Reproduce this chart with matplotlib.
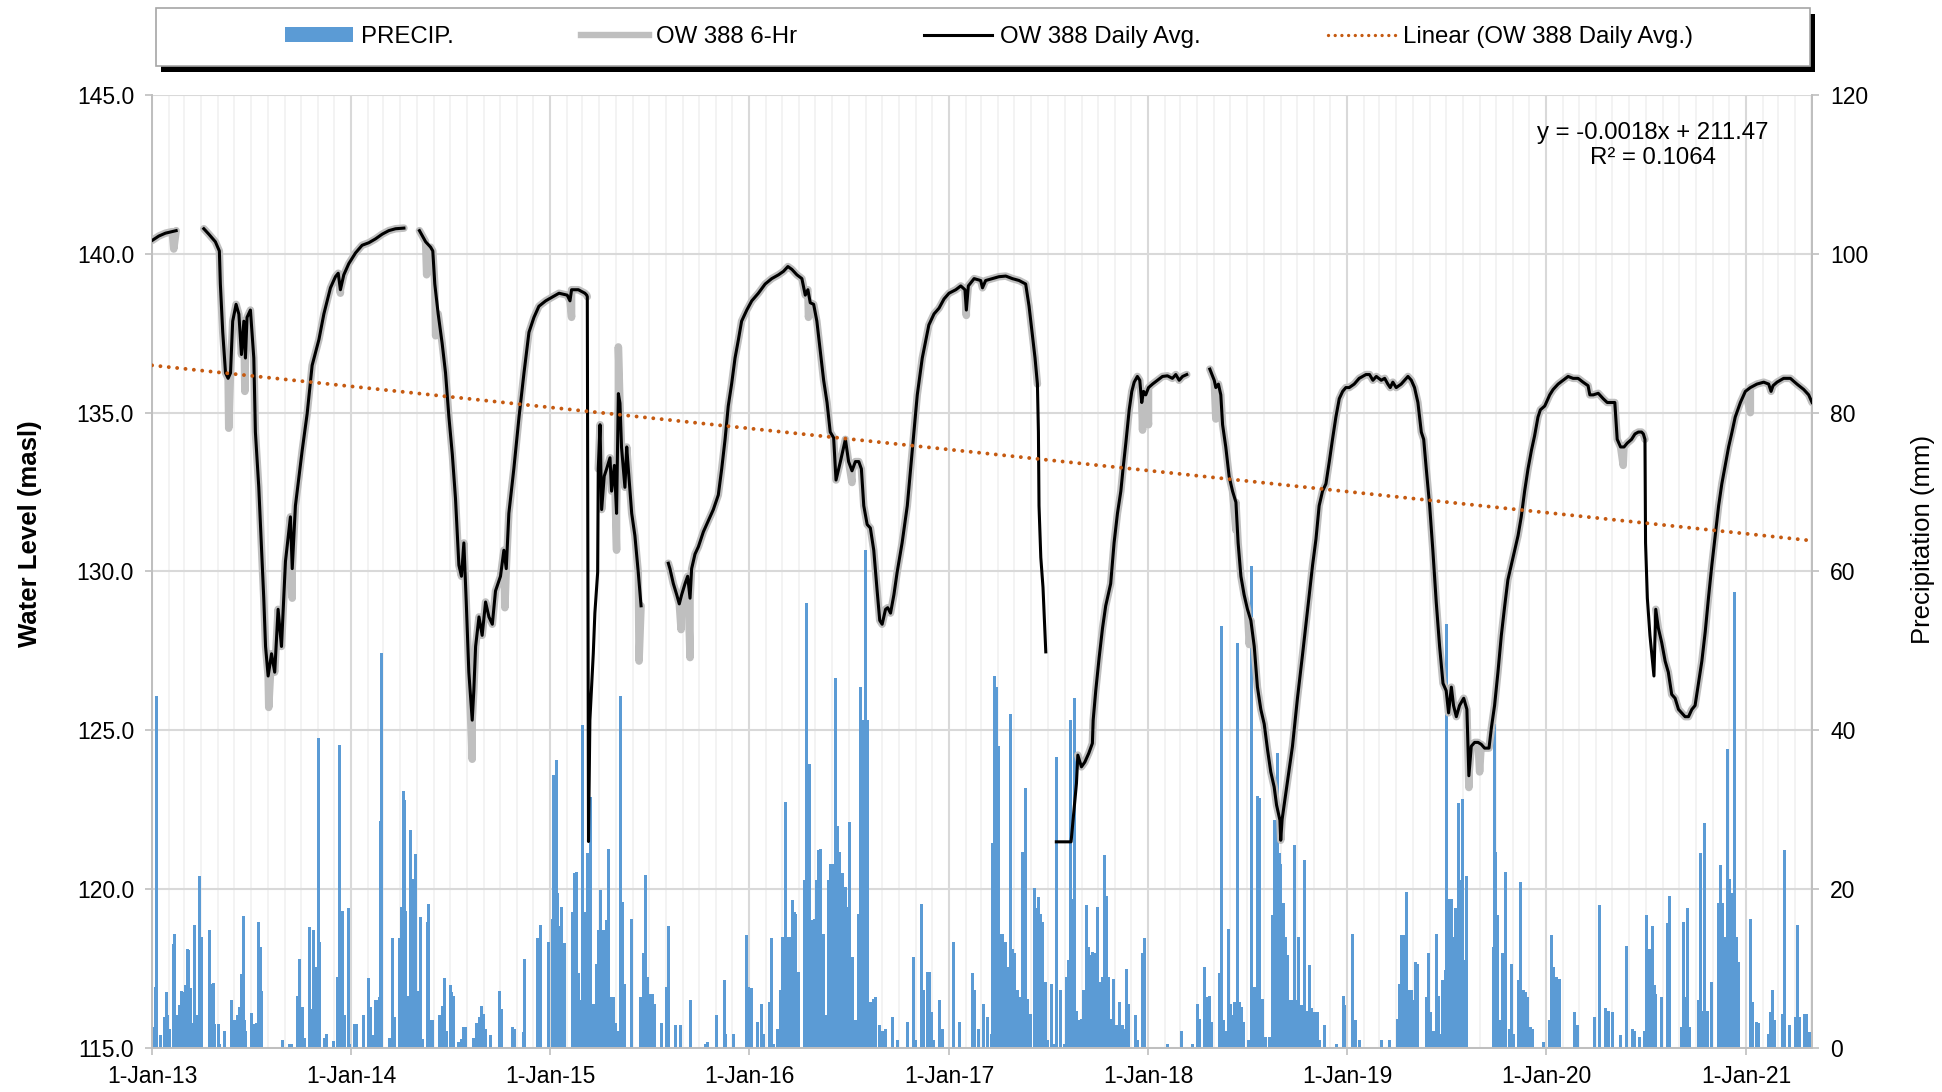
import numpy as np
import pandas as pd
import matplotlib
matplotlib.use("Agg")
import matplotlib.pyplot as plt
import matplotlib.dates as mdates
from matplotlib.patches import Patch, Rectangle
from matplotlib.lines import Line2D
from matplotlib.ticker import FixedLocator, FuncFormatter

plt.rcParams['font.family'] = ['Liberation Sans', 'DejaVu Sans']

nan = np.nan

# OW 388 daily average water level (decimal year, masl); nan = no data
level_year = [
    2013.000, 2013.034, 2013.067, 2013.101, 2013.121, 2013.190,
    2013.260, 2013.285, 2013.318, 2013.338, 2013.343, 2013.355, 2013.369, 2013.382, 2013.394, 2013.405,
    2013.422, 2013.436, 2013.449, 2013.461, 2013.469, 2013.477, 2013.494, 2013.511, 2013.519, 2013.536,
    2013.553, 2013.561, 2013.570, 2013.583, 2013.600, 2013.616, 2013.633, 2013.650, 2013.670, 2013.695,
    2013.704, 2013.720, 2013.754, 2013.779, 2013.804, 2013.838, 2013.863, 2013.896, 2013.921, 2013.935,
    2013.946, 2013.963, 2013.988, 2014.022, 2014.055, 2014.089, 2014.122, 2014.156, 2014.189, 2014.223,
    2014.265, 2014.300,
    2014.343, 2014.374, 2014.399, 2014.410, 2014.420, 2014.437, 2014.457, 2014.474, 2014.491, 2014.508,
    2014.524, 2014.541, 2014.554, 2014.566, 2014.578, 2014.591, 2014.608, 2014.616, 2014.625, 2014.642,
    2014.658, 2014.675, 2014.692, 2014.709, 2014.725, 2014.750, 2014.767, 2014.779, 2014.792, 2014.817,
    2014.843, 2014.868, 2014.893, 2014.918, 2014.943, 2014.977, 2015.010, 2015.044, 2015.085, 2015.099,
    2015.107, 2015.141, 2015.174, 2015.183, 2015.186, 2015.192, 2015.199, 2015.216, 2015.224, 2015.238,
    2015.241, 2015.250, 2015.258, 2015.271, 2015.283, 2015.300, 2015.308, 2015.322, 2015.333, 2015.342,
    2015.350, 2015.358, 2015.375, 2015.384, 2015.392, 2015.409, 2015.425, 2015.442, 2015.456, 2015.520,
    2015.593, 2015.601, 2015.618, 2015.635, 2015.648, 2015.660, 2015.677, 2015.690, 2015.702, 2015.710,
    2015.727, 2015.744, 2015.769, 2015.794, 2015.819, 2015.844, 2015.861, 2015.878, 2015.894, 2015.911,
    2015.928, 2015.945, 2015.961, 2015.987, 2016.012, 2016.045, 2016.079, 2016.112, 2016.146, 2016.171,
    2016.193, 2016.213, 2016.238, 2016.263, 2016.280, 2016.293, 2016.305, 2016.322, 2016.338, 2016.355,
    2016.372, 2016.389, 2016.405, 2016.422, 2016.434, 2016.456, 2016.481, 2016.497, 2016.514, 2016.531,
    2016.548, 2016.561, 2016.573, 2016.590, 2016.606, 2016.623, 2016.640, 2016.653, 2016.665, 2016.682,
    2016.693, 2016.707, 2016.724, 2016.740, 2016.765, 2016.791, 2016.816, 2016.841, 2016.866, 2016.899,
    2016.925, 2016.950, 2016.975, 2017.000, 2017.034, 2017.059, 2017.080, 2017.087, 2017.097, 2017.126,
    2017.159, 2017.168, 2017.184, 2017.218, 2017.251, 2017.285, 2017.318, 2017.352, 2017.385, 2017.402,
    2017.419, 2017.432, 2017.444, 2017.449, 2017.452, 2017.461, 2017.472, 2017.486, 2017.510,
    2017.539, 2017.613, 2017.640, 2017.647, 2017.665, 2017.682, 2017.702, 2017.720, 2017.724, 2017.737,
    2017.754, 2017.771, 2017.787, 2017.812, 2017.829, 2017.846, 2017.863, 2017.874, 2017.888, 2017.905,
    2017.918, 2017.930, 2017.946, 2017.958, 2017.968, 2017.977, 2017.988, 2018.002, 2018.022, 2018.047,
    2018.072, 2018.097, 2018.122, 2018.139, 2018.156, 2018.173, 2018.194, 2018.250,
    2018.310, 2018.332, 2018.340, 2018.353, 2018.365, 2018.374, 2018.390, 2018.407, 2018.424, 2018.441,
    2018.452, 2018.466, 2018.482, 2018.499, 2018.516, 2018.533, 2018.549, 2018.566, 2018.583, 2018.600,
    2018.616, 2018.633, 2018.645, 2018.662, 2018.666, 2018.673, 2018.682, 2018.704, 2018.725, 2018.750,
    2018.776, 2018.801, 2018.826, 2018.843, 2018.859, 2018.876, 2018.893, 2018.910, 2018.926, 2018.943,
    2018.960, 2018.977, 2018.993, 2019.010, 2019.035, 2019.060, 2019.094, 2019.112, 2019.129, 2019.146,
    2019.171, 2019.188, 2019.204, 2019.216, 2019.229, 2019.246, 2019.271, 2019.288, 2019.305, 2019.322,
    2019.338, 2019.355, 2019.372, 2019.384, 2019.397, 2019.414, 2019.430, 2019.447, 2019.464, 2019.481,
    2019.497, 2019.509, 2019.523, 2019.534, 2019.548, 2019.564, 2019.585, 2019.601, 2019.611, 2019.623,
    2019.640, 2019.657, 2019.673, 2019.690, 2019.712, 2019.724, 2019.740, 2019.757, 2019.774, 2019.791,
    2019.807, 2019.824, 2019.841, 2019.858, 2019.874, 2019.891, 2019.908, 2019.925, 2019.941, 2019.958,
    2019.970, 2019.992, 2020.017, 2020.034, 2020.059, 2020.084, 2020.109, 2020.134, 2020.159, 2020.184,
    2020.209, 2020.218, 2020.235, 2020.260, 2020.285, 2020.305, 2020.327, 2020.343, 2020.355, 2020.372,
    2020.389, 2020.405, 2020.427, 2020.444, 2020.461, 2020.477, 2020.486, 2020.494, 2020.497, 2020.506,
    2020.519, 2020.528, 2020.539, 2020.548, 2020.561, 2020.578, 2020.595, 2020.611, 2020.628, 2020.645,
    2020.662, 2020.678, 2020.695, 2020.712, 2020.729, 2020.745, 2020.762, 2020.779, 2020.796, 2020.812,
    2020.829, 2020.846, 2020.863, 2020.879, 2020.896, 2020.913, 2020.930, 2020.946, 2020.972, 2020.997,
    2021.022, 2021.055, 2021.089, 2021.114, 2021.126, 2021.136, 2021.156, 2021.189, 2021.223, 2021.256,
    2021.290, 2021.315, 2021.332,
]
level_masl = [
    140.42, 140.56, 140.65, 140.70, 140.73, nan,
    140.79, 140.62, 140.38, 140.09, 139.05, 137.53, 136.25, 136.08, 136.25, 137.88,
    138.41, 138.10, 136.83, 137.88, 136.72, 138.00, 138.23, 136.72, 134.39, 132.65,
    130.32, 129.16, 127.64, 126.71, 127.41, 126.83, 128.81, 127.64, 130.32, 131.72,
    130.09, 132.07, 133.81, 134.97, 136.49, 137.30, 138.11, 138.93, 139.28, 139.39,
    138.87, 139.34, 139.69, 140.03, 140.27, 140.35, 140.47, 140.62, 140.73, 140.79,
    140.81, nan,
    140.73, 140.38, 140.21, 140.09, 139.05, 138.11, 137.18, 136.25, 134.86, 133.69,
    132.30, 130.20, 129.85, 130.90, 129.04, 126.83, 125.32, 126.25, 127.64, 128.57,
    127.99, 129.04, 128.57, 128.34, 129.39, 129.85, 130.67, 130.09, 131.83, 133.23,
    134.86, 136.25, 137.53, 138.00, 138.35, 138.52, 138.64, 138.76, 138.70, 138.52,
    138.87, 138.87, 138.76, 138.70, 138.65, 121.50, 125.32, 127.41, 128.69, 129.97,
    133.23, 134.62, 131.95, 133.00, 133.23, 133.58, 132.53, 133.34, 131.83, 135.60,
    135.30, 133.90, 132.65, 133.92, 133.23, 131.83, 131.13, 129.97, 128.92, nan,
    130.26, 130.09, 129.62, 129.27, 128.98, 129.27, 129.62, 129.85, 129.16, 130.09,
    130.55, 130.78, 131.25, 131.60, 131.95, 132.41, 133.23, 134.16, 135.21, 135.91,
    136.72, 137.30, 137.88, 138.23, 138.52, 138.76, 139.05, 139.22, 139.34, 139.45,
    139.60, 139.51, 139.34, 139.22, 138.70, 138.87, 138.46, 138.41, 137.88, 136.95,
    136.02, 135.32, 134.39, 134.21, 132.88, 133.46, 134.16, 133.46, 133.17, 133.46,
    133.46, 133.23, 132.07, 131.48, 131.37, 130.67, 129.39, 128.46, 128.34, 128.81,
    128.86, 128.69, 129.27, 129.97, 130.90, 132.07, 133.81, 135.56, 136.72, 137.76,
    138.11, 138.29, 138.58, 138.76, 138.87, 138.99, 138.87, 138.23, 138.99, 139.22,
    139.16, 138.93, 139.16, 139.22, 139.28, 139.30, 139.22, 139.16, 139.05, 138.35,
    137.42, 136.72, 135.90, 134.39, 132.07, 130.44, 129.50, 127.47, nan,
    121.49, 121.49, 123.33, 124.22, 123.85, 124.00, 124.28, 124.59, 125.32, 126.25,
    127.29, 128.22, 128.92, 129.62, 130.90, 131.83, 132.53, 133.23, 134.04, 135.09,
    135.67, 135.96, 136.14, 136.02, 135.32, 135.67, 135.56, 135.79, 135.90, 136.02,
    136.14, 136.16, 136.08, 136.20, 136.02, 136.14, 136.20, nan,
    136.37, 136.02, 135.79, 135.90, 135.56, 134.62, 133.92, 132.99, 132.53, 132.18,
    130.90, 129.85, 129.27, 128.81, 128.46, 127.64, 126.36, 125.66, 125.20, 124.38,
    123.69, 123.22, 122.65, 122.17, 121.54, 122.20, 122.60, 123.60, 124.50, 126.01,
    127.41, 128.81, 130.20, 131.02, 132.07, 132.53, 132.76, 133.46, 134.16, 134.86,
    135.44, 135.67, 135.79, 135.79, 135.90, 136.08, 136.20, 136.20, 136.02, 136.14,
    136.02, 136.08, 135.90, 135.79, 135.96, 135.79, 135.90, 136.02, 136.14, 136.02,
    135.79, 135.32, 134.39, 134.16, 133.23, 132.07, 130.67, 129.04, 127.64, 126.48,
    126.25, 125.55, 126.36, 125.78, 125.43, 125.78, 126.01, 125.66, 123.57, 124.50,
    124.62, 124.62, 124.56, 124.44, 124.44, 125.08, 125.78, 126.83, 127.99, 128.92,
    129.74, 130.20, 130.67, 131.13, 131.72, 132.53, 133.23, 133.81, 134.27, 134.86,
    135.09, 135.21, 135.56, 135.73, 135.90, 136.02, 136.14, 136.08, 136.08, 135.96,
    135.85, 135.56, 135.56, 135.61, 135.44, 135.32, 135.32, 135.32, 134.16, 133.92,
    133.92, 134.04, 134.16, 134.33, 134.39, 134.39, 134.33, 134.16, 130.90, 129.16,
    127.99, 127.41, 126.71, 128.81, 128.22, 127.76, 127.18, 126.83, 126.13, 126.01,
    125.66, 125.55, 125.43, 125.43, 125.66, 125.78, 126.48, 127.18, 128.11, 129.16,
    130.20, 131.13, 132.07, 132.76, 133.34, 133.92, 134.39, 134.86, 135.32, 135.67,
    135.79, 135.90, 135.96, 135.90, 135.67, 135.85, 135.96, 136.08, 136.08, 135.90,
    135.73, 135.56, 135.32,
]

# extra 6-hr readings that stand out from the daily average
hr6_extra_year = [2013.109, 2013.385, 2013.466, 2013.586, 2013.704, 2013.946, 2014.379, 2014.424,
                  2014.608, 2014.772, 2015.107, 2015.333, 2015.342, 2015.446, 2015.657, 2015.702,
                  2016.296, 2016.514, 2017.087, 2017.972, 2018.002, 2018.340, 2018.441, 2018.508,
                  2019.611, 2019.665, 2020.385, 2021.022]
hr6_extra_masl = [140.15, 134.51, 135.67, 125.72, 129.16, 138.76, 139.34, 137.42,
                  124.09, 128.86, 138.00, 130.67, 137.07, 127.18, 128.17, 127.29,
                  138.00, 132.80, 138.06, 134.45, 134.62, 134.80, 131.30, 127.70,
                  123.20, 123.69, 133.34, 135.00]
# periods with no 6-hr record (daily average only)
hr6_gaps = [(2015.187, 2015.240), (2017.445, 2017.640), (2020.496, 2020.545)]

# daily precipitation (decimal year, mm)
precip_year = [
    2013.008, 2013.017, 2013.022, 2013.042, 2013.064, 2013.072, 2013.080, 2013.089, 2013.106, 2013.114,
    2013.122, 2013.136, 2013.148, 2013.156, 2013.168, 2013.178, 2013.184, 2013.194, 2013.203, 2013.215,
    2013.226, 2013.236, 2013.245, 2013.248, 2013.287, 2013.298, 2013.307, 2013.315, 2013.332, 2013.340,
    2013.362, 2013.399, 2013.407, 2013.419, 2013.429, 2013.438, 2013.449, 2013.458, 2013.466, 2013.471,
    2013.500, 2013.513, 2013.525, 2013.535, 2013.543, 2013.550, 2013.655, 2013.692, 2013.701, 2013.731,
    2013.739, 2013.748, 2013.756, 2013.764, 2013.793, 2013.801, 2013.813, 2013.821, 2013.835, 2013.843,
    2013.868, 2013.877, 2013.912, 2013.932, 2013.939, 2013.949, 2013.957, 2013.969, 2013.986, 2013.994,
    2014.019, 2014.028, 2014.061, 2014.086, 2014.095, 2014.106, 2014.120, 2014.130, 2014.140, 2014.147,
    2014.153, 2014.195, 2014.209, 2014.220, 2014.244, 2014.254, 2014.262, 2014.267, 2014.274, 2014.282,
    2014.296, 2014.304, 2014.313, 2014.321, 2014.329, 2014.338, 2014.350, 2014.358, 2014.383, 2014.390,
    2014.400, 2014.408, 2014.442, 2014.450, 2014.458, 2014.469, 2014.477, 2014.497, 2014.505, 2014.514,
    2014.539, 2014.556, 2014.566, 2014.573, 2014.614, 2014.631, 2014.643, 2014.656, 2014.665, 2014.673,
    2014.698, 2014.747, 2014.754, 2014.812, 2014.821, 2014.866, 2014.871, 2014.938, 2014.950, 2014.992,
    2015.011, 2015.018, 2015.029, 2015.038, 2015.047, 2015.056, 2015.065, 2015.074, 2015.114, 2015.123,
    2015.132, 2015.141, 2015.152, 2015.164, 2015.177, 2015.186, 2015.200, 2015.204, 2015.215, 2015.231,
    2015.242, 2015.253, 2015.265, 2015.276, 2015.283, 2015.294, 2015.305, 2015.316, 2015.327, 2015.343,
    2015.354, 2015.361, 2015.372, 2015.410, 2015.455, 2015.466, 2015.478, 2015.487, 2015.500, 2015.511,
    2015.522, 2015.561, 2015.583, 2015.594, 2015.628, 2015.652, 2015.706, 2015.780, 2015.792, 2015.836,
    2015.875, 2015.881, 2015.919, 2015.987, 2015.998,
    2016.011, 2016.043, 2016.060, 2016.072, 2016.101, 2016.110, 2016.123, 2016.139, 2016.157, 2016.166,
    2016.179, 2016.195, 2016.206, 2016.215, 2016.224, 2016.233, 2016.246, 2016.276, 2016.285, 2016.291,
    2016.302, 2016.314, 2016.325, 2016.336, 2016.347, 2016.356, 2016.370, 2016.379, 2016.388, 2016.397,
    2016.408, 2016.419, 2016.430, 2016.441, 2016.453, 2016.464, 2016.475, 2016.482, 2016.493, 2016.504,
    2016.515, 2016.531, 2016.549, 2016.558, 2016.571, 2016.583, 2016.594, 2016.609, 2016.621, 2016.632,
    2016.650, 2016.665, 2016.683, 2016.717, 2016.744, 2016.793, 2016.822, 2016.834, 2016.863, 2016.874,
    2016.890, 2016.901, 2016.912, 2016.923, 2016.952, 2016.968,
    2017.024, 2017.051, 2017.118, 2017.129, 2017.147, 2017.174, 2017.192, 2017.214, 2017.219, 2017.226,
    2017.237, 2017.248, 2017.259, 2017.270, 2017.282, 2017.293, 2017.309, 2017.320, 2017.331, 2017.344,
    2017.360, 2017.371, 2017.382, 2017.393, 2017.409, 2017.427, 2017.438, 2017.450, 2017.461, 2017.472,
    2017.483, 2017.494, 2017.517, 2017.528, 2017.539, 2017.562, 2017.580, 2017.589, 2017.600, 2017.609,
    2017.620, 2017.629, 2017.640, 2017.651, 2017.663, 2017.674, 2017.685, 2017.692, 2017.703, 2017.712,
    2017.719, 2017.728, 2017.737, 2017.748, 2017.759, 2017.770, 2017.779, 2017.790, 2017.801, 2017.813,
    2017.824, 2017.835, 2017.846, 2017.857, 2017.871, 2017.880, 2017.889, 2017.902, 2017.938, 2017.949,
    2017.970, 2017.981,
    2018.095, 2018.167, 2018.223, 2018.250, 2018.256, 2018.283, 2018.294, 2018.306, 2018.317, 2018.357,
    2018.368, 2018.380, 2018.391, 2018.406, 2018.413, 2018.424, 2018.436, 2018.447, 2018.458, 2018.469,
    2018.480, 2018.503, 2018.518, 2018.536, 2018.548, 2018.559, 2018.575, 2018.592, 2018.610, 2018.626,
    2018.637, 2018.648, 2018.660, 2018.666, 2018.678, 2018.689, 2018.700, 2018.709, 2018.720, 2018.734,
    2018.742, 2018.754, 2018.760, 2018.772, 2018.787, 2018.798, 2018.812, 2018.823, 2018.834, 2018.850,
    2018.861, 2018.885, 2018.947, 2018.979, 2018.988,
    2019.025, 2019.041, 2019.062, 2019.173, 2019.214, 2019.251, 2019.261, 2019.272, 2019.282, 2019.288,
    2019.298, 2019.313, 2019.325, 2019.333, 2019.344, 2019.354, 2019.399, 2019.409, 2019.420, 2019.432,
    2019.447, 2019.457, 2019.467, 2019.481, 2019.492, 2019.498, 2019.510, 2019.523, 2019.535, 2019.545,
    2019.553, 2019.560, 2019.570, 2019.580, 2019.590, 2019.601, 2019.735, 2019.739, 2019.747, 2019.755,
    2019.772, 2019.782, 2019.796, 2019.817, 2019.827, 2019.835, 2019.862, 2019.872, 2019.885, 2019.893,
    2019.903, 2019.920, 2019.930, 2019.988,
    2020.016, 2020.025, 2020.037, 2020.049, 2020.058, 2020.068, 2020.140, 2020.156, 2020.243, 2020.267,
    2020.296, 2020.309, 2020.329, 2020.372, 2020.403, 2020.434, 2020.444, 2020.469, 2020.490, 2020.502,
    2020.510, 2020.521, 2020.531, 2020.541, 2020.549, 2020.578, 2020.605, 2020.619, 2020.677, 2020.685,
    2020.695, 2020.708, 2020.718, 2020.763, 2020.771, 2020.784, 2020.794, 2020.805, 2020.829, 2020.864,
    2020.872, 2020.883, 2020.897, 2020.907, 2020.918, 2020.928, 2020.934, 2020.944, 2020.955, 2020.965,
    2021.021, 2021.031, 2021.051, 2021.062, 2021.113, 2021.123, 2021.134, 2021.144, 2021.185, 2021.195,
    2021.220, 2021.247, 2021.257, 2021.268, 2021.294, 2021.302, 2021.319,
]
precip_mm = [
    2.6, 7.7, 44.3, 1.6, 3.9, 7.0, 4.1, 2.4, 13.1, 14.4,
    4.1, 5.4, 7.2, 7.0, 7.9, 12.5, 12.3, 7.5, 3.2, 15.5,
    4.1, 21.7, 2.8, 14.0, 14.8, 8.1, 8.2, 3.0, 3.0, 0.5,
    2.2, 6.0, 3.5, 3.5, 4.1, 5.1, 9.3, 16.6, 3.5, 2.2,
    4.4, 3.0, 3.2, 15.9, 12.7, 7.2, 1.0, 0.5, 0.5, 6.5,
    11.2, 5.1, 5.1, 1.3, 15.2, 4.9, 14.8, 10.2, 39.0, 13.3,
    1.3, 1.8, 0.9, 8.9, 38.1, 17.3, 17.3, 4.2, 17.6, 0.5,
    3.0, 3.0, 4.2, 8.8, 5.1, 1.6, 6.0, 6.1, 6.4, 28.6,
    49.8, 1.3, 13.9, 3.9, 13.9, 17.8, 32.3, 31.2, 17.3, 6.5,
    27.5, 8.1, 21.3, 24.4, 6.6, 7.2, 16.5, 1.1, 15.9, 18.1,
    3.5, 3.5, 4.2, 4.2, 5.3, 8.8, 2.2, 7.9, 7.0, 6.6,
    0.8, 1.1, 2.6, 2.6, 1.2, 3.2, 3.9, 5.3, 4.3, 2.4,
    1.6, 7.2, 4.9, 2.7, 2.4, 2.0, 11.2, 13.8, 15.5, 13.3,
    16.3, 34.4, 36.3, 19.5, 15.3, 17.8, 11.9, 13.2, 17.1, 22.0,
    22.2, 9.4, 6.0, 40.7, 17.1, 24.5, 12.8, 31.6, 5.6, 10.6,
    14.8, 19.9, 14.8, 9.7, 16.1, 25.0, 6.4, 6.4, 3.1, 2.2,
    44.3, 18.4, 8.1, 16.3, 6.4, 11.9, 21.8, 9.0, 6.8, 6.8,
    5.6, 3.1, 7.7, 15.3, 2.9, 2.9, 6.0, 0.5, 0.8, 4.1,
    8.5, 1.8, 1.8, 14.2, 7.7,
    7.5, 3.3, 5.6, 1.8, 5.8, 13.8, 0.5, 2.4, 7.3, 14.0,
    31.0, 14.0, 14.0, 18.6, 17.1, 16.9, 9.6, 21.1, 56.0, 35.8,
    35.8, 16.1, 16.3, 21.1, 24.9, 25.1, 14.4, 3.7, 4.1, 21.1,
    23.2, 23.2, 46.6, 28.0, 24.7, 22.0, 15.3, 20.3, 17.8, 28.5,
    11.5, 3.5, 16.9, 45.4, 41.3, 62.7, 41.3, 5.8, 6.2, 6.4,
    2.9, 2.2, 2.4, 3.9, 1.0, 3.3, 11.5, 1.0, 18.1, 7.3,
    9.6, 9.6, 4.5, 1.0, 6.0, 2.4,
    13.4, 3.3, 9.5, 7.3, 2.4, 5.6, 3.9, 1.8, 25.8, 46.8,
    45.4, 38.0, 14.4, 14.4, 13.4, 10.2, 42.1, 12.5, 11.9, 7.3,
    6.4, 24.7, 32.7, 6.2, 4.3, 20.1, 17.6, 19.0, 16.9, 15.9,
    8.3, 1.0, 8.1, 0.5, 36.7, 7.3, 0.5, 8.9, 11.1, 41.3,
    18.8, 44.1, 4.7, 3.5, 3.7, 7.3, 6.6, 18.0, 12.7, 11.7,
    12.1, 9.2, 11.9, 17.8, 8.3, 8.9, 24.3, 19.2, 8.9, 3.7,
    8.7, 2.9, 2.9, 5.8, 2.9, 2.4, 10.0, 5.6, 4.1, 1.0,
    12.0, 13.9,
    0.5, 2.2, 0.5, 5.6, 3.7, 10.2, 6.4, 6.6, 3.3, 9.4,
    53.2, 3.5, 2.2, 15.0, 5.6, 4.1, 5.8, 51.0, 5.8, 5.2,
    3.3, 1.0, 60.7, 7.7, 31.7, 31.5, 6.2, 1.4, 1.4, 16.7,
    28.7, 37.2, 24.5, 23.2, 18.2, 14.0, 11.7, 6.0, 6.0, 25.5,
    6.0, 14.0, 4.7, 5.4, 23.7, 4.7, 10.4, 5.0, 4.5, 4.5,
    1.0, 2.9, 0.5, 6.6, 5.4,
    14.3, 3.5, 1.0, 1.0, 1.0, 3.7, 8.1, 14.2, 14.2, 10.8,
    19.7, 7.3, 7.3, 6.0, 10.8, 10.6, 6.4, 11.9, 4.5, 2.2,
    14.4, 6.6, 1.8, 8.5, 9.8, 53.4, 18.8, 18.8, 14.0, 17.6,
    12.9, 30.8, 21.1, 31.4, 11.1, 21.6, 12.7, 40.8, 24.7, 16.7,
    3.5, 11.9, 22.2, 2.4, 10.6, 1.8, 8.5, 20.9, 7.3, 7.1,
    6.4, 2.6, 2.4, 0.8,
    3.5, 14.2, 10.2, 8.9, 3.5, 8.7, 4.5, 2.9, 3.9, 18.0,
    5.0, 4.7, 4.5, 1.6, 12.9, 2.4, 2.2, 1.4, 2.2, 16.7,
    12.5, 12.5, 15.3, 7.9, 6.8, 6.4, 15.7, 19.2, 2.6, 15.9,
    6.4, 17.6, 2.6, 6.0, 24.5, 4.7, 28.3, 4.7, 8.3, 18.2,
    23.0, 18.2, 14.0, 37.7, 21.3, 19.5, 16.5, 57.4, 14.0, 10.8,
    16.3, 5.8, 3.3, 3.1, 1.8, 4.5, 7.3, 3.5, 4.3, 24.9,
    2.9, 3.9, 15.5, 3.9, 4.3, 4.3, 2.0,
]

# linear trendline end points (as drawn by the spreadsheet)
trend_year = [2013.0, 2021.332]
trend_masl = [136.49, 130.97]

x_start, x_end = 2013.0, 2021.332


def to_date(y):
    y0 = int(np.floor(y))
    start = pd.Timestamp(year=y0, month=1, day=1)
    end = pd.Timestamp(year=y0 + 1, month=1, day=1)
    return start + (end - start) * (y - y0)


level_dates = [to_date(y) for y in level_year]

# 6-hr series: daily record plus individual readings, blank where not logged
hr6 = sorted(zip(level_year + hr6_extra_year, level_masl + hr6_extra_masl))
hr6_year = [p[0] for p in hr6]
hr6_masl = [p[1] for p in hr6]
for i, y in enumerate(hr6_year):
    for g0, g1 in hr6_gaps:
        if g0 <= y <= g1:
            hr6_masl[i] = nan
hr6_dates = [to_date(y) for y in hr6_year]
precip_dates = [to_date(y) for y in precip_year]
trend_dates = [to_date(y) for y in trend_year]

grid_major = '#D9D9D9'
grid_minor = '#F2F2F2'
axis_col = '#BFBFBF'
blue = '#5B9BD5'
orange = '#C55A11'

fig = plt.figure(figsize=(19.42, 10.92), dpi=100)
ax2 = fig.add_axes([0.0783, 0.0403, 0.8548, 0.8727])
ax = ax2.twinx()
ax.set_zorder(ax2.get_zorder() + 1)
ax.patch.set_visible(False)

# precipitation bars
ax2.bar(precip_dates, precip_mm, width=5.5, color=blue, linewidth=0, zorder=2)
ax2.set_ylim(0, 120)
ax2.yaxis.set_major_locator(FixedLocator(range(0, 121, 20)))
ax2.yaxis.tick_right()
ax2.yaxis.set_label_position('right')

# water levels
ax.plot(hr6_dates, hr6_masl, color='#BFBFBF', lw=5.4, solid_capstyle='round',
        solid_joinstyle='round', zorder=2)
ax.plot(level_dates, level_masl, color='black', lw=2.2, solid_joinstyle='round', zorder=3)
ax.plot(trend_dates, trend_masl, color=orange, lw=2.8, linestyle=(0, (0.01, 2.15)),
        dash_capstyle='round', zorder=4)
ax.set_ylim(115, 145)
ax.yaxis.set_major_locator(FixedLocator(np.arange(115, 145.1, 5)))
ax.yaxis.set_major_formatter(FuncFormatter(lambda v, p: f"{v:.1f}"))
ax.yaxis.tick_left()
ax.yaxis.set_label_position('left')

ax2.set_xlim(to_date(x_start), to_date(x_end))
ax2.xaxis.set_major_locator(mdates.YearLocator())
ax2.xaxis.set_minor_locator(mdates.MonthLocator())
ax2.xaxis.set_major_formatter(FuncFormatter(
    lambda v, p: f"{mdates.num2date(v).day}-{mdates.num2date(v).strftime('%b-%y')}"))

# grid lines behind everything
ax2.set_axisbelow(True)
ax2.grid(axis='x', which='minor', color=grid_minor, lw=1.3)
ax2.grid(axis='x', which='major', color=grid_major, lw=1.5)
ax2.grid(axis='y', which='major', color=grid_major, lw=1.5)

for a in (ax, ax2):
    for s in a.spines.values():
        s.set_color(axis_col)
        s.set_linewidth(1.3)
    a.spines['top'].set_visible(False)

ax.tick_params(axis='y', length=5, width=1.2, color=axis_col, labelsize=16.5, pad=8)
ax2.tick_params(axis='y', length=5, width=1.2, color=axis_col, labelsize=16.5, pad=8)
ax2.tick_params(axis='x', which='major', length=5, width=1.2, color=axis_col, labelsize=16.5, pad=7)
ax2.tick_params(axis='x', which='minor', length=0)

ax.set_ylabel('Water Level (masl)', fontsize=18.5, fontweight='bold')
ax.yaxis.set_label_coords(-0.066, 0.54)
ax2.set_ylabel('Precipitation (mm)', fontsize=18.5)
ax2.yaxis.set_label_coords(1.0595, 0.534)

ax.text(0.904, 0.947, 'y = -0.0018x + 211.47\nR² = 0.1064', transform=ax.transAxes,
        ha='center', va='center', fontsize=17.3)

# legend box with shadow
bx, by, bw, bh = 0.0803, 0.9396, 0.8517, 0.0531
fig.patches.append(Rectangle((bx + 5 / 1942, by - 6 / 1092), bw, bh, transform=fig.transFigure,
                             facecolor='black', edgecolor='none', zorder=0))
fig.patches.append(Rectangle((bx, by), bw, bh, transform=fig.transFigure,
                             facecolor='white', edgecolor='#A6A6A6', lw=1.2, zorder=1))
handles = [
    Patch(facecolor=blue, edgecolor='none'),
    Line2D([], [], color='#BFBFBF', lw=4.6),
    Line2D([], [], color='black', lw=2.2),
    Line2D([], [], color=orange, lw=2.4, linestyle=(0, (0.01, 2.0)), dash_capstyle='round'),
]
labels = ['PRECIP.', 'OW 388 6-Hr', 'OW 388 Daily Avg.', 'Linear (OW 388 Daily Avg.)']
fig.legend(handles, labels, loc='center', bbox_to_anchor=(0.5093, 0.966), ncol=4,
           frameon=False, fontsize=17.3, handlelength=2.83, handleheight=0.55,
           handletextpad=0.3, columnspacing=5.3)

fig.savefig('out.png', dpi=100, facecolor='white')
